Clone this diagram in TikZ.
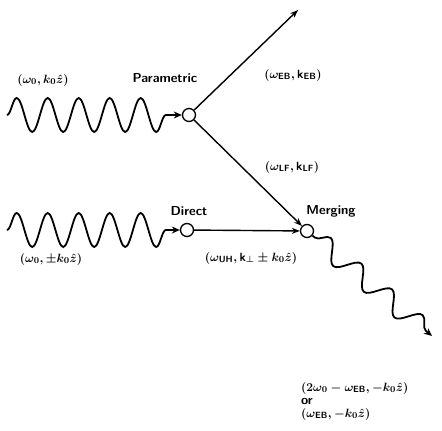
\documentclass[tikz,border=0pt]{standalone}
\usepackage{amsmath}
\usetikzlibrary{decorations.pathmorphing,arrows.meta}
\begin{document}
\begin{tikzpicture}[x=1pt,y=-1pt,
  vertex/.style={circle,draw,line width=1.3pt,minimum size=13pt,inner sep=0pt},
  lbl/.style={font=\fontsize{13}{15}\selectfont\sffamily\bfseries\boldmath,inner sep=0pt},
  conn/.style={line width=1.4pt,-{Stealth[length=8pt,width=6pt]}},
  wave/.style={line width=1.8pt,decorate,decoration={snake,segment length=31pt,amplitude=17pt,post length=12pt}},
  wiggle/.style={line width=1.8pt,decorate,decoration={snake,segment length=40pt,amplitude=10pt,pre length=3pt,post length=8pt}}]
\useasboundingbox (0,0) rectangle (442,431);
\node[vertex] (P) at (189,115) {};
\node[vertex] (D) at (187,230) {};
\node[vertex] (M) at (307,231) {};
\coordinate (W1) at (7,115);
\coordinate (W2) at (7,230);
\coordinate (EB) at (298,10);
\coordinate (OUT) at (432,336);
\draw[wave,-{Stealth[length=8pt,width=7pt]}] (W1) -- (P.west);
\draw[wave,-{Stealth[length=8pt,width=7pt]}] (W2) -- (D.west);
\draw[conn] (P) -- (EB);
\draw[conn] (P) -- (M);
\draw[conn] (D) -- (M);
\draw[wiggle,-{Stealth[length=8pt,width=7pt]}] (M) -- (OUT);
\node[lbl] (l1) at (43,80) {$(\omega_0,k_0\hat{z})$};
\node[lbl] (l2) at (165,78) {Parametric};
\node[lbl] (l3) at (293,75) {$(\omega_{\mathsf{EB}},\mathsf{k}_{\mathsf{EB}})$};
\node[lbl] (l4) at (292,167) {$(\omega_{\mathsf{LF}},\mathsf{k}_{\mathsf{LF}})$};
\node[lbl] (l5) at (189,211) {Direct};
\node[lbl] (l6) at (331,211) {Merging};
\node[lbl] (l7) at (51,259) {$(\omega_0,\pm k_0\hat{z})$};
\node[lbl] (l8) at (251,258) {$(\omega_{\mathsf{UH}},\mathsf{k}_\perp\pm k_0\hat{z})$};
\node[lbl,anchor=west,align=left] (l9) at (301,401) {$(2\omega_0-\omega_{\mathsf{EB}},-k_0\hat{z})$\\[-2pt] or\\[-2pt] $(\omega_{\mathsf{EB}},-k_0\hat{z})$};
\end{tikzpicture}
\end{document}
